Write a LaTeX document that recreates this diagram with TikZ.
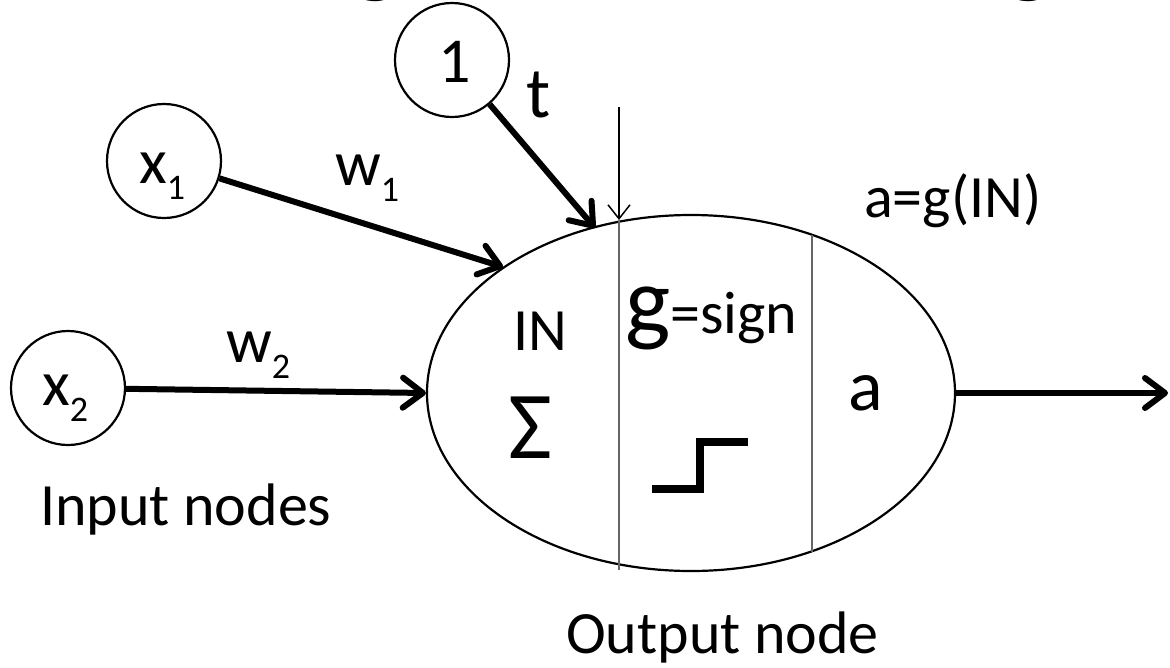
\documentclass[tikz,border=0pt]{standalone}
\usepackage{fontspec}
\setmainfont{Carlito}
\usetikzlibrary{shapes.geometric,arrows.meta}
\newcommand\sbs[1]{\raisebox{-0.26em}{\fontsize{36}{40}\selectfont #1}}
\tikzset{
  inode/.style={draw, circle, line width=2.2pt, minimum size=114pt, inner sep=0pt},
  txt/.style={font=\fontsize{60}{72}\selectfont, inner sep=0pt, anchor=base west},
  lbl/.style={font=\fontsize{64}{72}\selectfont, inner sep=0pt, anchor=base west},
  conn/.style={line width=6pt, -{Straight Barb[length=20pt,width=30pt,round]}},
  thinconn/.style={line width=1.5pt, -{Straight Barb[length=14pt,width=22pt]}},
  divider/.style={line width=1.8pt, draw=black!60},
}
\begin{document}
\begin{tikzpicture}[x=1pt,y=-1pt]
\useasboundingbox (0,0) rectangle (1170,667);
% cut-off title glyphs
\node[font=\fontsize{100}{120}\selectfont, inner sep=0pt, anchor=base] (ttlA) at (376,-16) {g};
\node[font=\fontsize{100}{120}\selectfont, inner sep=0pt, anchor=base] (ttlB) at (1029,-16) {g};
% output node
\node[draw, ellipse, line width=2.2pt, minimum width=528pt, minimum height=356pt, inner sep=0pt] (N) at (691,393) {};
% input nodes
\node[inode] (one) at (452,60) {};
\node[inode] (x1) at (164,161) {};
\node[inode] (x2) at (68,388) {};
\node[lbl] (onelbl) at (438,82) {1};
\node[lbl] (x1lbl) at (139,183) {x\sbs{1}};
\node[lbl] (x2lbl) at (42,405) {x\sbs{2}};
% weights
\node[lbl] (w1) at (335,185) {w\sbs{1}};
\node[lbl] (w2) at (226,362) {w\sbs{2}};
\node[lbl, font=\fontsize{72}{80}\selectfont] (t) at (526,117) {t};
% coordinates
\coordinate (tipone) at (595,228);
\coordinate (tipx1) at (503,267);
\coordinate (vtop) at (619,107);
\coordinate (vtip) at (619,220);
\coordinate (vbot) at (619,570);
\coordinate (dtop) at (812,235);
\coordinate (dbot) at (812,552);
\coordinate (out) at (1168,393);
% connectors
\draw[conn] (one) -- (tipone);
\draw[conn] (x1) -- (tipx1);
\draw[conn] (x2) -- (N.west);
\draw[conn] (N.east) -- (out);
\draw[thinconn] (vtop) -- (vtip);
\draw[divider] (vtip) -- (vbot);
\draw[divider] (dtop) -- (dbot);
% inside labels
\node[txt] (IN) at (513,350) {IN};
\node[txt, font=\fontsize{96}{100}\selectfont] (sigma) at (508,458) {Σ};
\node[txt] (gsign) at (625,333) {{\fontsize{96}{100}\selectfont g}=sign};
\node[txt, font=\fontsize{72}{80}\selectfont] (a) at (848,410) {a};
\node[txt] (ag) at (864,217) {a=g(IN)};
\draw[line width=8pt] (652,489) -- (700,489) -- (700,442) -- (748,442);
% captions
\node[txt] (inp) at (40,525) {Input nodes};
\node[txt] (outp) at (566,653) {Output node};
\end{tikzpicture}
\end{document}
